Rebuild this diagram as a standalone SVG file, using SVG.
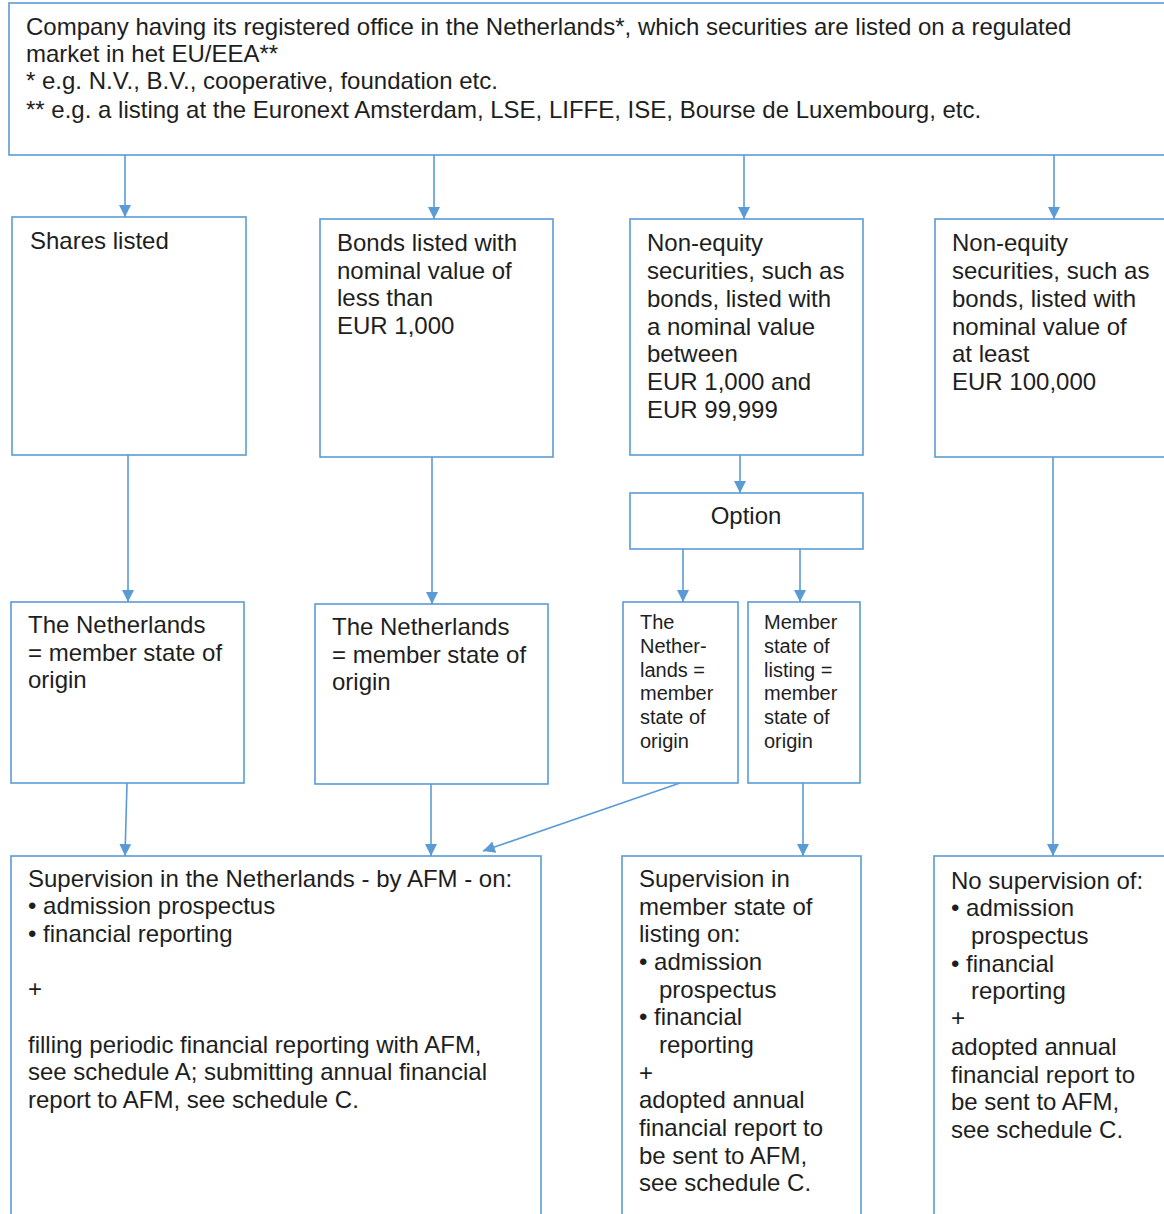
<svg xmlns="http://www.w3.org/2000/svg" width="1164" height="1214" viewBox="0 0 1164 1214">
<defs>
<style>
.box{fill:#fff;stroke:#5b9bd5;stroke-width:1.6}
.t{font-family:"Liberation Sans",Arial,sans-serif;font-size:24px;fill:#1e1e1e}
.s{font-family:"Liberation Sans",Arial,sans-serif;font-size:20px;fill:#1e1e1e}
.c{stroke:#5b9bd5;stroke-width:1.6;fill:none;marker-end:url(#ah)}
</style>
<marker id="ah" markerUnits="userSpaceOnUse" markerWidth="14" markerHeight="14" refX="12" refY="6" orient="auto">
<path d="M0,0 L12,6 L0,12 z" fill="#5b9bd5"/>
</marker>
</defs>
<rect width="1164" height="1214" fill="#fff"/>

<g id="connectors">
<line class="c" x1="125" y1="155" x2="125" y2="217"/>
<line class="c" x1="434" y1="155" x2="434" y2="219"/>
<line class="c" x1="744" y1="155" x2="744" y2="219"/>
<line class="c" x1="1054" y1="155" x2="1054" y2="219"/>
<line class="c" x1="128" y1="455" x2="128" y2="602"/>
<line class="c" x1="432" y1="457" x2="432" y2="604"/>
<line class="c" x1="740" y1="455" x2="740" y2="493"/>
<line class="c" x1="1053" y1="457" x2="1053" y2="856"/>
<line class="c" x1="683" y1="549" x2="683" y2="602"/>
<line class="c" x1="800" y1="549" x2="800" y2="602"/>
<line class="c" x1="127" y1="783" x2="125" y2="856"/>
<line class="c" x1="431" y1="784" x2="431" y2="856"/>
<line class="c" x1="680" y1="783" x2="483" y2="851"/>
<line class="c" x1="803" y1="783" x2="803" y2="856"/>
</g>

<g id="top">
<rect class="box" x="9" y="3" width="1170" height="152"/>
<text class="t">
<tspan x="26" y="35">Company having its registered office in the Netherlands*, which securities are listed on a regulated</tspan>
<tspan x="26" y="62">market in het EU/EEA**</tspan>
<tspan x="26" y="89">* e.g. N.V., B.V., cooperative, foundation etc.</tspan>
<tspan x="26" y="118">** e.g. a listing at the Euronext Amsterdam, LSE, LIFFE, ISE, Bourse de Luxembourg, etc.</tspan>
</text>
</g>

<g id="shares">
<rect class="box" x="12" y="217" width="234" height="238"/>
<text class="t"><tspan x="30" y="249">Shares listed</tspan></text>
</g>

<g id="bonds">
<rect class="box" x="320" y="219" width="233" height="238"/>
<text class="t">
<tspan x="337" y="251">Bonds listed with</tspan>
<tspan x="337" y="279">nominal value of</tspan>
<tspan x="337" y="306">less than</tspan>
<tspan x="337" y="334">EUR 1,000</tspan>
</text>
</g>

<g id="nonequity-mid">
<rect class="box" x="630" y="219" width="233" height="236"/>
<text class="t">
<tspan x="647" y="251">Non-equity</tspan>
<tspan x="647" y="279">securities, such as</tspan>
<tspan x="647" y="307">bonds, listed with</tspan>
<tspan x="647" y="335">a nominal value</tspan>
<tspan x="647" y="362">between</tspan>
<tspan x="647" y="390">EUR 1,000 and</tspan>
<tspan x="647" y="418">EUR 99,999</tspan>
</text>
</g>

<g id="nonequity-high">
<rect class="box" x="935" y="219" width="240" height="238"/>
<text class="t">
<tspan x="952" y="251">Non-equity</tspan>
<tspan x="952" y="279">securities, such as</tspan>
<tspan x="952" y="307">bonds, listed with</tspan>
<tspan x="952" y="335">nominal value of</tspan>
<tspan x="952" y="362">at least</tspan>
<tspan x="952" y="390">EUR 100,000</tspan>
</text>
</g>

<g id="option">
<rect class="box" x="630" y="493" width="233" height="56"/>
<text class="t" x="746" y="524" text-anchor="middle">Option</text>
</g>

<g id="nl-origin-1">
<rect class="box" x="11" y="602" width="233" height="181"/>
<text class="t">
<tspan x="28" y="633">The Netherlands</tspan>
<tspan x="28" y="661">= member state of</tspan>
<tspan x="28" y="688">origin</tspan>
</text>
</g>

<g id="nl-origin-2">
<rect class="box" x="315" y="604" width="233" height="180"/>
<text class="t">
<tspan x="332" y="635">The Netherlands</tspan>
<tspan x="332" y="663">= member state of</tspan>
<tspan x="332" y="690">origin</tspan>
</text>
</g>

<g id="nl-origin-option">
<rect class="box" x="623" y="602" width="115" height="181"/>
<text class="s">
<tspan x="640" y="629">The</tspan>
<tspan x="640" y="653">Nether-</tspan>
<tspan x="640" y="677">lands =</tspan>
<tspan x="640" y="700">member</tspan>
<tspan x="640" y="724">state of</tspan>
<tspan x="640" y="748">origin</tspan>
</text>
</g>

<g id="listing-origin-option">
<rect class="box" x="748" y="602" width="112" height="181"/>
<text class="s">
<tspan x="764" y="629">Member</tspan>
<tspan x="764" y="653">state of</tspan>
<tspan x="764" y="677">listing =</tspan>
<tspan x="764" y="700">member</tspan>
<tspan x="764" y="724">state of</tspan>
<tspan x="764" y="748">origin</tspan>
</text>
</g>

<g id="supervision-nl">
<rect class="box" x="11" y="856" width="530" height="370"/>
<text class="t">
<tspan x="28" y="887">Supervision in the Netherlands - by AFM - on:</tspan>
<tspan x="28" y="914">• admission prospectus</tspan>
<tspan x="28" y="942">• financial reporting</tspan>
<tspan x="28" y="997">+</tspan>
<tspan x="28" y="1053">filling periodic financial reporting with AFM,</tspan>
<tspan x="28" y="1080">see schedule A; submitting annual financial</tspan>
<tspan x="28" y="1108">report to AFM, see schedule C.</tspan>
</text>
</g>

<g id="supervision-listing">
<rect class="box" x="622" y="856" width="239" height="370"/>
<text class="t">
<tspan x="639" y="887">Supervision in</tspan>
<tspan x="639" y="915">member state of</tspan>
<tspan x="639" y="942">listing on:</tspan>
<tspan x="639" y="970">• admission</tspan>
<tspan x="659" y="998">prospectus</tspan>
<tspan x="639" y="1025">• financial</tspan>
<tspan x="659" y="1053">reporting</tspan>
<tspan x="639" y="1081">+</tspan>
<tspan x="639" y="1108">adopted annual</tspan>
<tspan x="639" y="1136">financial report to</tspan>
<tspan x="639" y="1164">be sent to AFM,</tspan>
<tspan x="639" y="1191">see schedule C.</tspan>
</text>
</g>

<g id="no-supervision">
<rect class="box" x="934" y="856" width="240" height="370"/>
<text class="t">
<tspan x="951" y="889">No supervision of:</tspan>
<tspan x="951" y="916">• admission</tspan>
<tspan x="971" y="944">prospectus</tspan>
<tspan x="951" y="972">• financial</tspan>
<tspan x="971" y="999">reporting</tspan>
<tspan x="951" y="1026">+</tspan>
<tspan x="951" y="1055">adopted annual</tspan>
<tspan x="951" y="1083">financial report to</tspan>
<tspan x="951" y="1110">be sent to AFM,</tspan>
<tspan x="951" y="1138">see schedule C.</tspan>
</text>
</g>
</svg>
